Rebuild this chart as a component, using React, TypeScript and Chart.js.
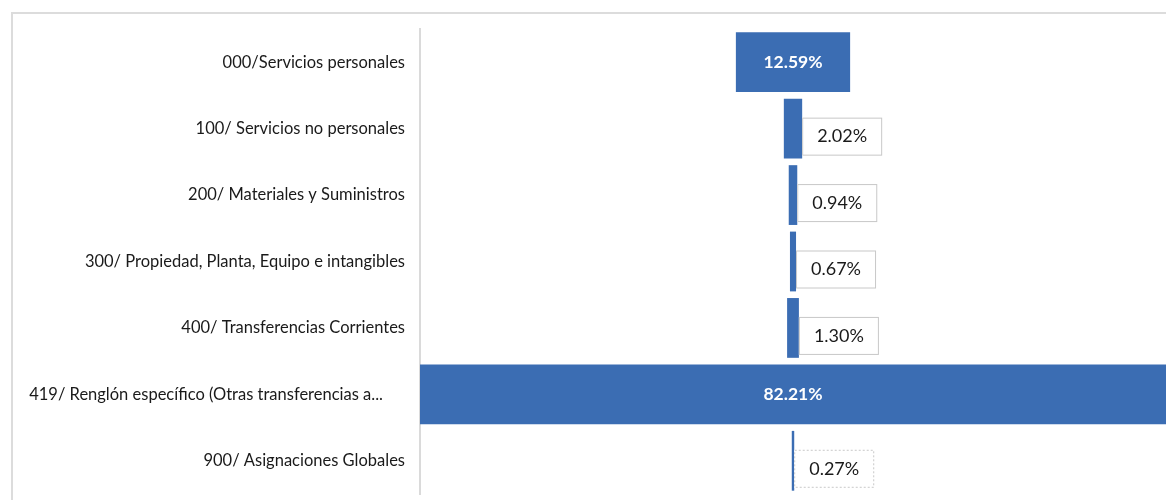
import { useEffect, useRef } from 'react';
import { Chart, registerables } from 'chart.js';

Chart.register(...registerables);

const categories = [
  '000/Servicios personales',
  '100/ Servicios no personales',
  '200/ Materiales y Suministros',
  '300/ Propiedad, Planta, Equipo e intangibles',
  '400/ Transferencias Corrientes',
  '419/ Renglón específico (Otras transferencias a...',
  '900/ Asignaciones Globales',
];
const shares = [12.59, 2.02, 0.94, 0.67, 1.3, 82.21, 0.27];
const shareLabels = ['12.59%', '2.02%', '0.94%', '0.67%', '1.30%', '82.21%', '0.27%'];

const FONT = 'Lato, "Noto Sans", sans-serif';
const BAR = '#3b6db3';

export default function App() {
  const ref = useRef<HTMLCanvasElement>(null);

  useEffect(() => {
    if (!ref.current) return;

    const framePlugin = {
      id: 'frame',
      beforeDraw(chart: any) {
        const ctx = chart.ctx;
        ctx.save();
        ctx.fillStyle = '#ffffff';
        ctx.fillRect(0, 0, chart.width, chart.height);
        ctx.strokeStyle = '#dcdcdc';
        ctx.lineWidth = 2;
        ctx.beginPath();
        ctx.moveTo(12, chart.height);
        ctx.lineTo(12, 13);
        ctx.lineTo(chart.width, 13);
        ctx.stroke();
        ctx.restore();
      },
    };

    const labelShift: Record<number, number> = { 5: -22 };
    const dashed: Record<number, boolean> = { 6: true };

    const labelPlugin = {
      id: 'labels',
      afterDatasetsDraw(chart: any) {
        const ctx = chart.ctx;
        const meta = chart.getDatasetMeta(0);
        ctx.save();
        meta.data.forEach((el: any, i: number) => {
          // category labels
          ctx.font = `16.5px ${FONT}`;
          ctx.fillStyle = '#1a1a1a';
          ctx.textAlign = 'right';
          ctx.textBaseline = 'middle';
          ctx.fillText(categories[i], chart.chartArea.left - 15 + (labelShift[i] || 0), el.y);

          const right = Math.max(el.x, el.base);
          const left = Math.min(el.x, el.base);
          if (shares[i] > 5) {
            ctx.font = `bold 17.5px ${FONT}`;
            ctx.fillStyle = '#ffffff';
            ctx.textAlign = 'center';
            ctx.fillText(shareLabels[i], (left + right) / 2, el.y);
          } else {
            const w = 80;
            const h = 38;
            const bx = right;
            const by = el.y + 8 - h / 2;
            ctx.fillStyle = '#ffffff';
            ctx.fillRect(bx, by, w, h);
            ctx.strokeStyle = '#c8c8c8';
            ctx.lineWidth = 1;
            ctx.setLineDash(dashed[i] ? [2, 2] : []);
            ctx.strokeRect(bx + 0.5, by + 0.5, w - 1, h - 1);
            ctx.setLineDash([]);
            ctx.font = `18px ${FONT}`;
            ctx.fillStyle = '#1a1a1a';
            ctx.textAlign = 'center';
            ctx.fillText(shareLabels[i], bx + w / 2, by + h / 2);
          }
        });
        ctx.restore();
      },
    };

    const chart = new Chart(ref.current, {
      type: 'bar',
      data: {
        labels: categories,
        datasets: [
          {
            data: shares.map((v) => [-v / 2, v / 2]) as any,
            backgroundColor: BAR,
            borderWidth: 0,
            barPercentage: 0.9,
            categoryPercentage: 1,
          },
        ],
      },
      options: {
        indexAxis: 'y',
        responsive: false,
        animation: false,
        layout: { padding: { top: 29, bottom: 6, left: 0, right: 0 } },
        plugins: { legend: { display: false }, tooltip: { enabled: false } },
        scales: {
          x: { display: false, min: -41.105, max: 41.105 },
          y: {
            grid: { display: false, drawTicks: false },
            border: { display: true, color: '#dadada', width: 2 },
            ticks: { display: false },
            afterFit: (s: any) => {
              s.width = 420;
            },
          },
        },
      },
      plugins: [framePlugin, labelPlugin],
    });
    return () => chart.destroy();
  }, []);

  return (
    <div style={{ position: 'fixed', left: 0, top: 0, width: 1166, height: 500, background: '#fff' }}>
      <canvas ref={ref} width={1166} height={500} style={{ display: 'block', width: 1166, height: 500 }} />
    </div>
  );
}
